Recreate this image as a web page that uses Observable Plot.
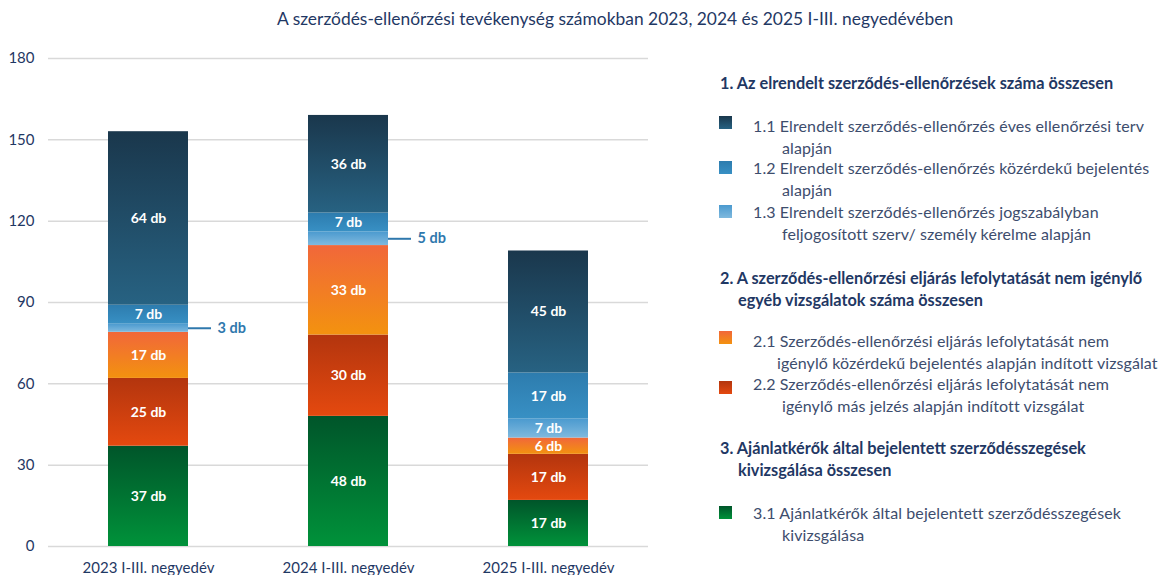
<!DOCTYPE html>
<html><head><meta charset="utf-8">
<script src="https://cdn.jsdelivr.net/npm/d3@7"></script>
<script src="https://cdn.jsdelivr.net/npm/@observablehq/plot@0.6"></script>
<style>
body{margin:0;background:#fff;font-family:Lato,"Open Sans",sans-serif;}
#wrap{position:relative;width:1169px;height:575px;overflow:hidden;background:#fff;}
#title{position:absolute;top:8px;left:277px;font-size:17.4px;color:#1f3864;white-space:nowrap;z-index:2;}
#chart{position:absolute;left:0;top:0;z-index:1;}
.blk{position:absolute;white-space:nowrap;line-height:21.5px;font-size:16px;z-index:2;}
.hd{font-weight:bold;color:#1f3864;font-size:16.3px;}
.it{color:#3d4d6d;letter-spacing:0.1px;}
.sq{position:absolute;width:13px;height:13px;z-index:2;}
</style></head>
<body><div id="wrap"><div id="title"></div><div id="chart"></div><div id="legend"></div></div>
<script>
const titleText = "A szerződés-ellenőrzési tevékenység számokban 2023, 2024 és 2025 I-III. negyedévében";
const periods = ["2023 I-III. negyedév", "2024 I-III. negyedév", "2025 I-III. negyedév"];
const yTicks = [0, 30, 60, 90, 120, 150, 180];
// series, bottom to top
const seriesKeys = ["3.1", "2.2", "2.1", "1.3", "1.2", "1.1"];
const v31 = [37, 48, 17];
const v22 = [25, 30, 17];
const v21 = [17, 33, 6];
const v13 = [3, 5, 7];
const v12 = [7, 7, 17];
const v11 = [64, 36, 45];
const seriesValues = {"3.1": v31, "2.2": v22, "2.1": v21, "1.3": v13, "1.2": v12, "1.1": v11};

const gradients = {
  "1.1": ["#1a374c", "#276282"],
  "1.2": ["#2d7cae", "#3890c4"],
  "1.3": ["#4b9acf", "#7fb9de"],
  "2.1": ["#f1673a", "#f3920f"],
  "2.2": ["#b3350e", "#e4490f"],
  "3.1": ["#00552a", "#00923a"]
};
const gid = k => "grad" + k.replace(".", "");

const legendHeadings = {
  h1: ["1. Az elrendelt szerződés-ellenőrzések száma összesen"],
  h2: ["2. A szerződés-ellenőrzési eljárás lefolytatását nem igénylő", "egyéb vizsgálatok száma összesen"],
  h3: ["3. Ajánlatkérők által bejelentett szerződésszegések", "kivizsgálása összesen"]
};
const legendItems = {
  "1.1": ["1.1 Elrendelt szerződés-ellenőrzés éves ellenőrzési terv", "alapján"],
  "1.2": ["1.2 Elrendelt szerződés-ellenőrzés közérdekű bejelentés", "alapján"],
  "1.3": ["1.3 Elrendelt szerződés-ellenőrzés jogszabályban", "feljogosított szerv/ személy kérelme alapján"],
  "2.1": ["2.1 Szerződés-ellenőrzési eljárás lefolytatását nem", "igénylő közérdekű bejelentés alapján indított vizsgálat"],
  "2.2": ["2.2 Szerződés-ellenőrzési eljárás lefolytatását nem", "igénylő más jelzés alapján indított vizsgálat"],
  "3.1": ["3.1 Ajánlatkérők által bejelentett szerződésszegések", "kivizsgálása"]
};

const rows = [];
seriesKeys.forEach(s => periods.forEach((p, j) => rows.push({period: p, series: s, value: seriesValues[s][j]})));

document.getElementById("title").textContent = titleText;

const defsMark = () => {
  const defs = d3.create("svg:defs");
  for (const k of seriesKeys) {
    const lg = defs.append("linearGradient").attr("id", gid(k)).attr("x1", 0).attr("y1", 0).attr("x2", 0).attr("y2", 1);
    lg.append("stop").attr("offset", "0%").attr("stop-color", gradients[k][0]);
    lg.append("stop").attr("offset", "100%").attr("stop-color", gradients[k][1]);
  }
  return defs.node();
};

const stackOpts = {x: "period", y: "value", z: "series", order: seriesKeys};
const calloutColor = "#2f78ad";

const chart = Plot.plot({
  width: 660, height: 575,
  marginTop: 58, marginBottom: 29, marginLeft: 48, marginRight: 12,
  x: {domain: periods, paddingInner: 0.6, paddingOuter: 0.3, label: null, tickSize: 0, tickPadding: 16},
  y: {domain: [0, 180], ticks: yTicks, label: null, tickSize: 0, tickPadding: 14},
  color: {type: "identity"},
  style: {fontFamily: "Lato, 'Open Sans', sans-serif", fontSize: "15px", color: "#1f3864", background: "transparent", overflow: "visible"},
  marks: [
    defsMark,
    Plot.ruleY(yTicks, {stroke: "#d9d9d9", strokeWidth: 1.5}),
    Plot.barY(rows, {...stackOpts, fill: d => `url(#${gid(d.series)})`}),
    Plot.text(rows, Plot.filter(d => d.value >= 6, Plot.stackY({...stackOpts, text: d => `${d.value} db`, fill: "white", fontWeight: "bold", fontSize: 14}))),
    Plot.tickY(rows, Plot.filter(d => d.value < 6, Plot.stackY({...stackOpts, stroke: calloutColor, strokeWidth: 2, dx: 80, insetRight: 57}))),
    Plot.text(rows, Plot.filter(d => d.value < 6, Plot.stackY({...stackOpts, text: d => `${d.value} db`, fill: calloutColor, fontWeight: "bold", fontSize: 14.5, textAnchor: "start", dx: 69})))
  ]
});
document.getElementById("chart").appendChild(chart);

// legend
const legend = document.getElementById("legend");
function addBlock(top, lines, cls, left1, left2) {
  lines.forEach((t, i) => {
    const d = document.createElement("div");
    d.className = "blk " + cls;
    d.style.top = (top + i * 21.5) + "px";
    d.style.left = (i === 0 ? left1 : left2) + "px";
    d.textContent = t;
    legend.appendChild(d);
  });
}
function addSquare(top, key) {
  const s = document.createElement("div");
  s.className = "sq";
  s.style.top = top + "px";
  s.style.left = "719px";
  s.style.background = `linear-gradient(${gradients[key][0]}, ${gradients[key][1]})`;
  legend.appendChild(s);
}
addBlock(72, legendHeadings.h1, "hd", 720, 738);
addBlock(115, legendItems["1.1"], "it", 753, 782); addSquare(116, "1.1");
addBlock(157, legendItems["1.2"], "it", 753, 782); addSquare(161, "1.2");
addBlock(201, legendItems["1.3"], "it", 753, 782); addSquare(205, "1.3");
addBlock(267, legendHeadings.h2, "hd", 720, 738);
addBlock(330, legendItems["2.1"], "it", 753, 777); addSquare(331, "2.1");
addBlock(373, legendItems["2.2"], "it", 753, 782); addSquare(381, "2.2");
addBlock(437, legendHeadings.h3, "hd", 720, 738);
addBlock(502, legendItems["3.1"], "it", 753, 782); addSquare(506, "3.1");
</script></body></html>
